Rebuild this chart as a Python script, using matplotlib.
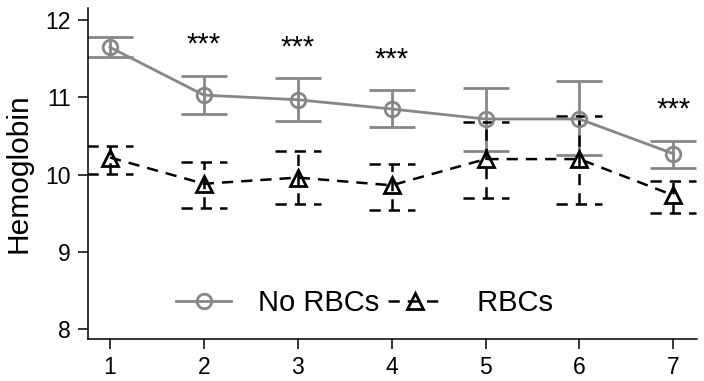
import matplotlib.pyplot as plt

plt.rcParams["font.family"] = ["Liberation Sans", "DejaVu Sans"]

visits = [1, 2, 3, 4, 5, 6, 7]

no_rbc_mean = [11.65, 11.03, 10.97, 10.85, 10.72, 10.72, 10.27]
no_rbc_hi = [11.79, 11.28, 11.25, 11.10, 11.12, 11.21, 10.44]
no_rbc_lo = [11.52, 10.79, 10.70, 10.62, 10.31, 10.25, 10.08]

rbc_mean = [10.22, 9.88, 9.96, 9.86, 10.20, 10.20, 9.73]
rbc_hi = [10.37, 10.16, 10.31, 10.14, 10.68, 10.76, 9.92]
rbc_lo = [10.01, 9.56, 9.62, 9.54, 9.70, 9.62, 9.50]

sig_visits = [2, 3, 4, 7]
sig_y = [11.68, 11.65, 11.49, 10.84]

GREY = "#878787"
CAP = 0.245  # half cap width in x units

fig = plt.figure(figsize=(7.04, 3.81), dpi=100)
ax = fig.add_axes([0.1243, 0.110, 0.8654, 0.869])

# No RBCs: solid grey
ax.vlines(visits, no_rbc_lo, no_rbc_hi, color=GREY, linewidth=2.0, zorder=2)
for x, lo, hi in zip(visits, no_rbc_lo, no_rbc_hi):
    ax.hlines([lo, hi], x - CAP, x + CAP, color=GREY, linewidth=2.0, zorder=2)
ax.plot(visits, no_rbc_mean, color=GREY, linewidth=2.0, marker="o", markersize=10.5,
        markerfacecolor="none", markeredgecolor=GREY, markeredgewidth=2.0,
        label="No RBCs", zorder=3)

# RBCs: dashed black
dash = (0, (4.5, 3.2))
ax.vlines(visits, rbc_lo, rbc_hi, color="black", linewidth=1.8, linestyle=dash, zorder=2)
for x, lo, hi in zip(visits, rbc_lo, rbc_hi):
    ax.hlines([lo, hi], x - CAP, x + CAP, color="black", linewidth=1.8,
              linestyle=dash, zorder=2)
ax.plot(visits, rbc_mean, color="black", linewidth=1.8, linestyle=(0, (4.5, 3.2)),
        marker="^", markersize=12, markerfacecolor="none", markeredgecolor="black",
        markeredgewidth=2.0, label=" RBCs", zorder=3)

for x, y in zip(sig_visits, sig_y):
    ax.text(x, y, "***", ha="center", va="center", fontsize=21)

ax.set_xlim(0.76, 7.25)
ax.set_ylim(7.865, 12.16)
ax.set_xticks(visits)
ax.set_yticks([8, 9, 10, 11, 12])
ax.tick_params(labelsize=16.5, length=7, width=1.1, direction="out", pad=5)
ax.set_ylabel("Hemoglobin", fontsize=21.5, labelpad=9)

for side in ["top", "right"]:
    ax.spines[side].set_visible(False)
for side in ["left", "bottom"]:
    ax.spines[side].set_linewidth(1.1)

ax.legend(loc="center", bbox_to_anchor=(0.455, 0.109), ncol=2, frameon=False,
          fontsize=21, handlelength=1.9, handletextpad=0.9, columnspacing=0.3,
          borderaxespad=0)

fig.savefig("out.png", dpi=100)
